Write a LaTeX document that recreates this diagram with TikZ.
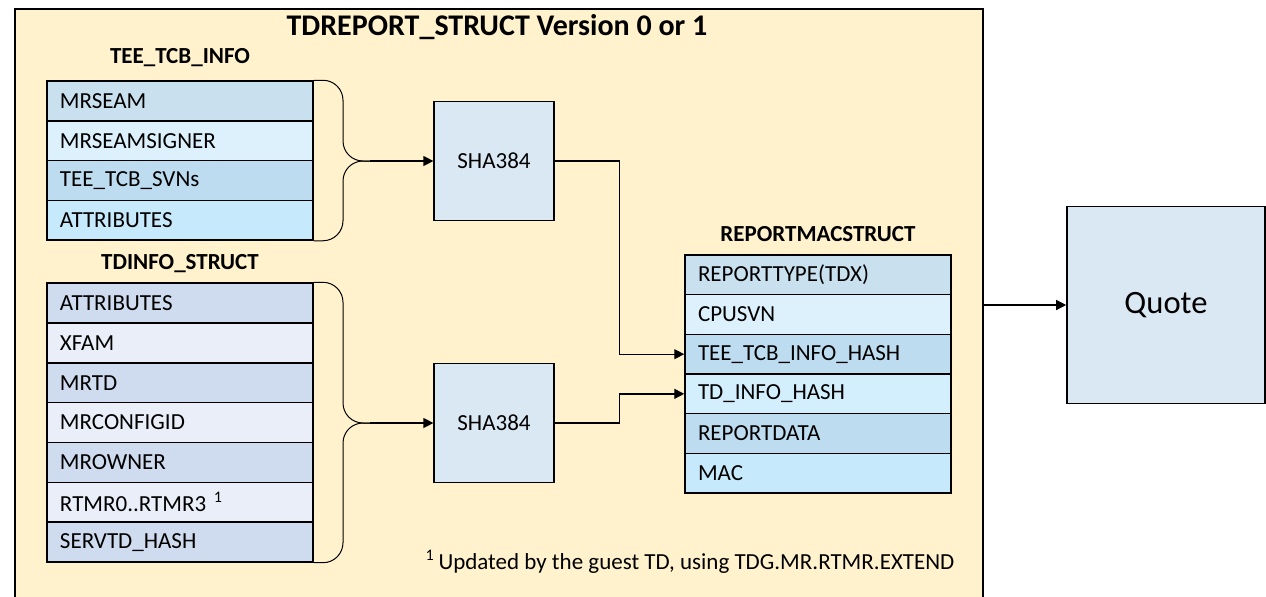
\documentclass[tikz,border=0pt]{standalone}
\usepackage{fontspec}
\setmainfont{Carlito}
\usetikzlibrary{arrows.meta}
\definecolor{reportbg}{HTML}{FFF2CC}
\definecolor{hashfill}{HTML}{DAE8F3}
\definecolor{tcbA}{HTML}{C9E0EF}
\definecolor{tcbB}{HTML}{DDF1FD}
\definecolor{tcbC}{HTML}{BDDCF0}
\definecolor{tcbD}{HTML}{C6E9FC}
\definecolor{tdA}{HTML}{CFDBEE}
\definecolor{tdB}{HTML}{E9EEF8}
\definecolor{rmD}{HTML}{D3EEFC}
\tikzset{
    field/.style={draw, line width=0.75pt, minimum height=19.875pt, text width=120pt,
        inner xsep=6.5pt, inner ysep=0pt, align=left, font=\fontsize{11.5}{13}\selectfont},
    structhead/.style={font=\fontsize{11.5}{13}\selectfont\bfseries},
    hashbox/.style={draw, line width=0.6pt, fill=hashfill, minimum width=60pt,
        minimum height=59.5pt, font=\fontsize{11.5}{13}\selectfont},
    conn/.style={line width=0.65pt, -{Triangle[length=5pt,width=5pt]}},
    brace/.style={line width=0.5pt, rounded corners=10pt}
}
\begin{document}
\begin{tikzpicture}[x=0.5pt,y=-0.5pt]
        \useasboundingbox (0,0) rectangle (1266,596);
        \fill[white] (0,0) rectangle (1266,596);
        \node[draw, fill=reportbg, line width=0.75pt, minimum width=484pt, minimum height=296pt,
            inner sep=0pt, anchor=north west] (report) at (14,8) {};
        \node[font=\fontsize{15}{18}\selectfont\bfseries] (title) at (497,27) {TDREPORT\_STRUCT Version 0 or 1};
        \node[structhead] (tcbhead) at (180,58) {TEE\_TCB\_INFO};
        \node[structhead] (tdhead) at (180,264) {TDINFO\_STRUCT};
        \node[structhead] (rmhead) at (818,234) {REPORTMACSTRUCT};
        \foreach \name/\col [count=\i] in {MRSEAM/tcbA, MRSEAMSIGNER/tcbB, TEE\_TCB\_SVNs/tcbC, ATTRIBUTES/tcbD}{%
            \node[field, fill=\col] (tcb\i) at (180,{81+39.75*(\i-0.5)}) {\name};}
        \foreach \name/\col [count=\i] in {ATTRIBUTES/tdA, XFAM/tdB, MRTD/tdA, MRCONFIGID/tdB,
            MROWNER/tdA, RTMR0..RTMR3 \textsuperscript{1}/tdB, SERVTD\_HASH/tdA}{%
            \node[field, fill=\col] (td\i) at (180,{283+39.86*(\i-0.5)}) {\name};}
        \foreach \name/\col [count=\i] in {REPORTTYPE(TDX)/tcbA, CPUSVN/tcbB, TEE\_TCB\_INFO\_HASH/tcbC,
            TD\_INFO\_HASH/rmD, REPORTDATA/tcbC, MAC/tcbD}{%
            \node[field, fill=\col] (rm\i) at (818,{255+39.67*(\i-0.5)}) {\name};}
        \node[hashbox] (sha1) at (494,161) {SHA384};
        \node[hashbox] (sha2) at (494,423) {SHA384};
        \coordinate (tcbtip) at (370,161);
        \coordinate (tdtip) at (370,423);
        \draw[brace] (tcb1.north east) -| (343,161) -- (tcbtip);
        \draw[brace] (tcb4.south east) -| (343,161) -- (tcbtip);
        \draw[brace] (td1.north east) -| (343,423) -- (tdtip);
        \draw[brace] (td7.south east) -| (343,423) -- (tdtip);
        \draw[conn] (tcbtip) -- (sha1);
        \draw[conn] (tdtip) -- (sha2);
        \draw[conn] (sha1.east) -- ++(65,0) |- (rm3.west);
        \draw[conn] (sha2.east) -- ++(65,0) |- (rm4.west);
        \node[font=\fontsize{11.5}{13}\selectfont] (note) at (690,562)
            {\textsuperscript{1}\,Updated by the guest TD, using TDG.MR.RTMR.EXTEND};
        \node[draw, fill=hashfill, line width=0.8pt, minimum width=99pt, minimum height=98.5pt,
            font=\fontsize{16.3}{19}\selectfont] (quote) at (1166,305) {Quote};
        \draw[conn] (report.east |- quote.west) -- (quote.west);
\end{tikzpicture}
\end{document}
